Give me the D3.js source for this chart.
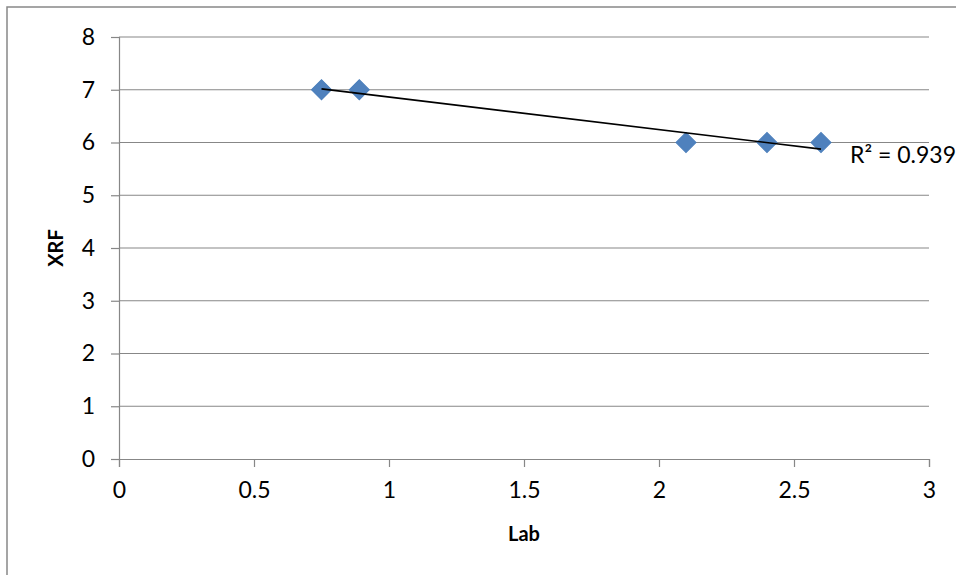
<!DOCTYPE html>
<html>
<head>
<meta charset="utf-8">
<script src="https://cdn.jsdelivr.net/npm/d3@7"></script>
<style>
  html, body { margin: 0; padding: 0; background: #fff; overflow: hidden; }
  svg { display: block; font-family: Lato, "Open Sans", sans-serif; }
</style>
</head>
<body>
<svg id="chart" width="956" height="575"></svg>
<script>
// Data
const labValues = [0.75, 0.89, 2.1, 2.4, 2.6];
const xrfValues = [7, 7, 6, 6, 6];
const xTicks = [0, 0.5, 1, 1.5, 2, 2.5, 3];
const yTicks = [0, 1, 2, 3, 4, 5, 6, 7, 8];
const xTitle = "Lab";
const yTitle = "XRF";
const r2Label = "R² = 0.939";

const svg = d3.select("#chart");
const W = 956, H = 575;
const plot = { left: 119, right: 929, top: 37, bottom: 459 };
const gridColor = "#878787";

// chart area border
svg.append("rect")
  .attr("x", 7).attr("y", 7)
  .attr("width", W).attr("height", H)
  .attr("fill", "#fff").attr("stroke", "#888").attr("stroke-width", 1.5);

const x = d3.scaleLinear().domain([0, 3]).range([plot.left, plot.right]);
const y = d3.scaleLinear().domain([0, 8]).range([plot.bottom, plot.top]);

// gridlines
svg.append("g").selectAll("line").data(yTicks.filter(d => d > 0)).join("line")
  .attr("x1", plot.left).attr("x2", plot.right)
  .attr("y1", d => y(d)).attr("y2", d => y(d))
  .attr("stroke", gridColor).attr("stroke-width", 1.2);

// Y axis
const yAxis = d3.axisLeft(y).tickValues(yTicks).tickSize(8).tickPadding(16)
  .tickFormat(d3.format("d"));
const gy = svg.append("g").attr("transform", `translate(${plot.left},0)`).call(yAxis);
gy.select(".domain").attr("stroke", gridColor).attr("stroke-width", 1.2);
gy.selectAll(".tick line").attr("stroke", gridColor).attr("stroke-width", 1.2);
gy.selectAll(".tick text").attr("font-size", 23).attr("fill", "#000")
  .attr("font-family", "Lato, 'Open Sans', sans-serif");

// X axis
const xAxis = d3.axisBottom(x).tickValues(xTicks).tickSize(8).tickPadding(15)
  .tickFormat(d => String(d));
const gx = svg.append("g").attr("transform", `translate(0,${plot.bottom})`).call(xAxis);
gx.select(".domain").attr("stroke", gridColor).attr("stroke-width", 1.2);
gx.selectAll(".tick line").attr("stroke", gridColor).attr("stroke-width", 1.2);
gx.selectAll(".tick text").attr("font-size", 23).attr("fill", "#000")
  .attr("font-family", "Lato, 'Open Sans', sans-serif");

// Axis titles
svg.append("text")
  .attr("x", (plot.left + plot.right) / 2).attr("y", 541)
  .attr("text-anchor", "middle").attr("font-size", 20).attr("font-weight", "bold")
  .text(xTitle);
svg.append("text")
  .attr("transform", `translate(63,${(plot.top + plot.bottom) / 2}) rotate(-90)`)
  .attr("text-anchor", "middle").attr("font-size", 20).attr("font-weight", "bold")
  .text(yTitle);

// Markers
const pts = labValues.map((v, i) => ({ x: v, y: xrfValues[i] }));
svg.append("g").selectAll("path").data(pts).join("path")
  .attr("d", d3.symbol().type(d3.symbolSquare).size(200))
  .attr("transform", d => `translate(${x(d.x)},${y(d.y)}) rotate(45)`)
  .attr("fill", "#4F81BD").attr("stroke", "#4A7EBB").attr("stroke-width", 1);

// Linear trendline (least squares)
const mx = d3.mean(pts, d => d.x), my = d3.mean(pts, d => d.y);
const sxy = d3.sum(pts, d => (d.x - mx) * (d.y - my));
const sxx = d3.sum(pts, d => (d.x - mx) ** 2);
const slope = sxy / sxx, intercept = my - slope * mx;
const xmin = d3.min(labValues), xmax = d3.max(labValues);
svg.append("line")
  .attr("x1", x(xmin)).attr("y1", y(intercept + slope * xmin))
  .attr("x2", x(xmax)).attr("y2", y(intercept + slope * xmax))
  .attr("stroke", "#000").attr("stroke-width", 1.6);

// R² label
svg.append("text")
  .attr("x", 850).attr("y", 163)
  .attr("font-size", 23).attr("fill", "#000")
  .text(r2Label);
</script>
</body>
</html>
